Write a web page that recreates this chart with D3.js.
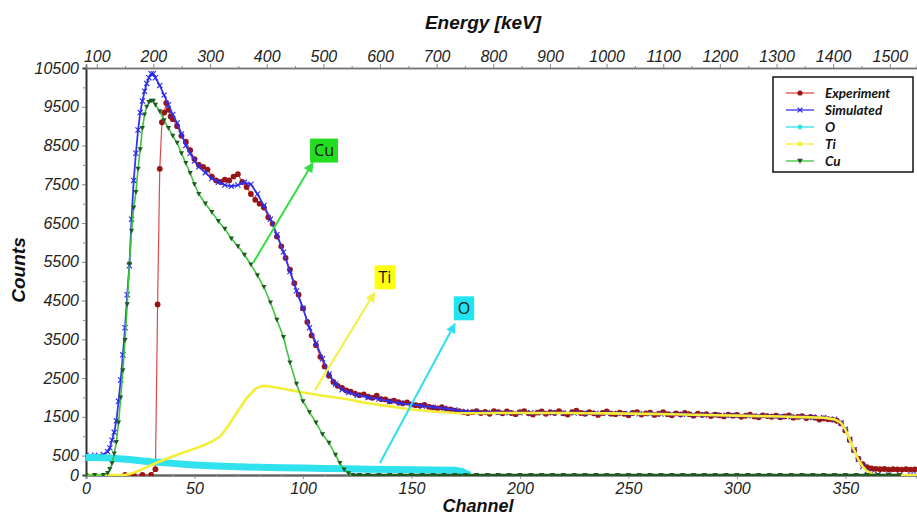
<!DOCTYPE html>
<html><head><meta charset="utf-8">
<script src="https://cdn.jsdelivr.net/npm/d3@7"></script>
<style>
body{margin:0;background:#fff;}
svg{display:block;font-family:"Liberation Sans",Arial,sans-serif;}
</style>
</head><body>
<svg id="chart" width="917" height="517"></svg>
<script>
// ---------- data ----------
const channelTicks = [0,50,100,150,200,250,300,350];
const energyTicks = [100,200,300,400,500,600,700,800,900,1000,1100,1200,1300,1400,1500];
const countTicks = [0,500,1500,2500,3500,4500,5500,6500,7500,8500,9500,10500];
const seriesNames = ["Experiment","Simulated","O","Ti","Cu"];

const expChannel = [18,22,26,30,32,33,34,35,36,37,38,39,40,
 42,44,46,48,50,52,54,56,58,60,62,64,66,68,70,72,74,76,78,80,82,84,86,88,90,92,94,96,98,100,
 102,104,106,108,110,112,114,116,118,120,122,124,126,128,130,132,134,136,138,140,142,144,146,148,150,
 152,154,156,158,160,162,164,166,168,170,172,174,176,178,180,182,184,186,188,190,192,194,196,198,200,
 202,204,206,208,210,212,214,216,218,220,222,224,226,228,230,232,234,236,238,240,242,244,246,248,250,
 252,254,256,258,260,262,264,266,268,270,272,274,276,278,280,282,284,286,288,290,292,294,296,298,300,
 302,304,306,308,310,312,314,316,318,320,322,324,326,328,330,332,334,336,338,340,342,344,346,348,350,
 352,354,356,358,360,362,364,366,368,370,372,374,376,378,380,382];
const expCounts = [0,0,0,0,150,4400,7900,9100,9350,9600,9420,9250,9180,
 9000,8750,8600,8380,8150,8000,7950,7880,7700,7600,7560,7620,7600,7700,7760,7560,7430,7250,7100,7000,6900,6650,6480,6150,5900,5600,5300,4950,4650,4300,
 3950,3600,3350,3050,2800,2560,2400,2300,2250,2180,2150,2100,2060,2080,2020,1990,2050,1960,1950,1900,1920,1880,1850,1870,1820,
 1800,1790,1810,1760,1740,1720,1750,1700,1690,1660,1650,1620,1600,1620,1650,1600,1630,1580,1650,1620,1590,1640,1600,1570,1620,
 1650,1590,1560,1610,1640,1580,1620,1600,1650,1590,1560,1620,1660,1600,1580,1620,1590,1550,1600,1640,1580,1570,1610,1580,1540,
 1600,1620,1560,1590,1610,1550,1580,1620,1570,1540,1590,1560,1600,1570,1530,1580,1550,1570,1520,1560,1540,1510,1560,1530,1550,
 1500,1530,1560,1510,1490,1540,1520,1500,1530,1490,1510,1540,1480,1500,1520,1470,1500,1480,1430,1460,1440,1430,1400,1330,1150,
 900,640,420,280,200,170,160,150,155,140,150,145,140,150,140,145];

const simChannel = [0,4,8,10,11,12,13,14,15,16,17,18,19,20,21,22,23,24,25,26,27,28,29,30,31,32,34,36,38,40,
 42,44,46,48,50,52,55,58,61,64,67,70,73,76,79,82,85,88,91,94,97,100,103,106,109,112,115,118,121,125,
 130,135,140,145,150,155,160,165,170,175,180,185,190,195,200,205,210,215,220,225,230,235,240,245,250,
 255,260,265,270,275,280,285,290,295,300,305,310,315,320,325,330,335,340,345,348,350,352,354,356,358,
 360,362,365,370,375,380,383];
const simCounts = [510,510,530,600,700,900,1100,1400,1900,2450,3100,3800,4650,5400,6600,7600,8300,8900,9350,9650,9900,10100,10250,10350,10350,10250,10050,9800,9550,9300,
 9080,8800,8500,8300,8100,7950,7800,7650,7550,7480,7450,7480,7550,7500,7250,6950,6600,6200,5750,5250,4750,4300,3800,3400,3000,2600,2350,2200,2130,2060,
 2000,1960,1900,1850,1820,1780,1750,1720,1680,1640,1620,1615,1610,1605,1605,1605,1605,1605,1600,1600,1598,1595,1592,1590,1585,
 1580,1578,1572,1568,1562,1556,1550,1545,1540,1534,1528,1522,1516,1510,1503,1496,1489,1480,1440,1350,1180,920,650,400,220,
 100,40,10,0,0,0,0];

const oChannel = [0,5,10,15,20,25,30,35,40,45,50,55,60,70,80,90,100,110,120,130,140,150,160,170,173,175,177];
const oCounts = [450,450,440,420,400,370,340,320,300,280,260,245,235,215,200,190,180,170,160,150,145,138,132,125,100,40,0];

const tiChannel = [0,18,22,26,30,34,38,42,46,50,54,58,62,66,70,74,78,81,84,88,92,96,100,105,110,115,120,125,130,135,
 140,145,150,155,160,165,170,175,180,190,200,210,220,230,240,250,260,270,280,290,300,310,320,330,340,345,348,350,352,354,
 356,358,360,362,365,370,383];
const tiCounts = [0,0,60,150,250,350,440,520,600,680,760,860,1000,1300,1650,1980,2220,2300,2290,2250,2210,2170,2130,2085,2040,2000,1960,1900,1850,1810,
 1770,1730,1690,1665,1640,1620,1600,1595,1595,1598,1600,1600,1598,1595,1590,1584,1576,1566,1555,1543,1532,1520,1508,1494,1478,1435,1345,1172,912,645,
 395,215,95,35,8,0,0];

const cuChannel = [0,4,8,10,11,12,13,14,15,16,17,18,19,20,21,22,23,24,25,26,27,28,29,30,31,32,34,36,38,40,
 42,44,46,48,50,52,55,58,61,64,67,70,73,76,79,82,85,88,91,94,97,100,103,106,109,112,115,117,119,121,
 123,126,130,135,140,145,150,155,160,165,170,175,180,185,190,195,200,205,210,215,220,225,230,235,240,245,250,
 255,260,265,270,275,280,285,290,295,300,305,310,315,320,325,330,335,340,345,350,355,360,365,370,375,380];
const cuCounts = [0,0,0,50,150,300,550,850,1350,2000,2700,3480,4400,5450,6300,6900,7300,7900,8400,8950,9300,9500,9620,9650,9650,9550,9380,9150,8950,8750,
 8570,8300,8050,7790,7500,7250,7000,6780,6550,6350,6100,5900,5680,5430,5150,4850,4450,4000,3560,2900,2350,1900,1620,1350,1050,830,520,310,140,40,
 0,0,0,0,0,0,0,0,0,0,0,0,0,0,0,0,0,0,0,0,0,0,0,0,0,0,0,
 0,0,0,0,0,0,0,0,0,0,0,0,0,0,0,0,0,0,0,0,0,0,0,0,0];

// annotations (data coordinates)
const annLabels = ["Cu","Ti","O"];
const annFrom = [[77,5470],[105.5,2190],[135.5,310]];
const annTo = [[104.5,8050],[133,4700],[170,3900]];
const annBox = [[109.7,8370],[137.8,5100],[174.2,4300]];

// ---------- drawing ----------
const svg = d3.select("#chart");
const L=86, R=917, T=68, B=475;
const x = d3.scaleLinear().domain([0,383]).range([L,R]);
const xE = d3.scaleLinear().domain([81,1548]).range([L,R]);
const y = d3.scaleLinear().domain([0,10500]).range([B,T]);

svg.append("rect").attr("width",917).attr("height",517).attr("fill","#fff");

const defs = svg.append("defs");
defs.append("clipPath").attr("id","clip").append("rect")
  .attr("x",L).attr("y",T-8).attr("width",R-L).attr("height",B-T+9);

const colors = {exp:"#e04848", expM:"#9a1414", sim:"#3434f0", o:"#30e2ee", ti:"#f4ee3a", cu:"#3cc63c", cuM:"#1f5a22"};

const itFont = "italic 16px 'Liberation Sans', Arial, sans-serif";
const fmt = d3.format("d");

// left axis
const gl = svg.append("g").attr("transform",`translate(${L},0)`);
gl.call(d3.axisLeft(y).tickValues(countTicks).tickSize(4).tickPadding(3).tickFormat(fmt));
gl.append("g").call(d3.axisLeft(y).tickValues([1000,2000,3000,4000,5000,6000,7000,8000,9000,10000]).tickSize(3).tickFormat(""));
gl.selectAll("path.domain").attr("stroke","#333").attr("stroke-width",1.6);
gl.selectAll(".tick line").attr("stroke","#888");
gl.selectAll("text").style("font",itFont).attr("fill","#222");

// bottom axis
const gb = svg.append("g").attr("transform",`translate(0,${B})`);
gb.call(d3.axisBottom(x).tickValues(channelTicks).tickSize(4).tickPadding(4).tickFormat(fmt));
gb.append("g").call(d3.axisBottom(x).tickValues(d3.range(10,383,10).filter(v=>v%50)).tickSize(2).tickFormat(""));
gb.selectAll("path.domain").attr("stroke","#666").attr("stroke-width",2);
gb.selectAll(".tick line").attr("stroke","#999");
gb.selectAll("text").style("font",itFont).attr("fill","#222");

// top axis
const gt = svg.append("g").attr("transform",`translate(0,${T})`);
gt.call(d3.axisTop(xE).tickValues(energyTicks).tickSize(4).tickPadding(2).tickFormat(fmt));
gt.append("g").call(d3.axisTop(xE).tickValues(energyTicks.map(v=>v+50).filter(v=>v<1548)).tickSize(2).tickFormat(""));
gt.selectAll("path.domain").attr("stroke","#777").attr("stroke-width",1.5);
gt.selectAll(".tick line").attr("stroke","#888");
gt.selectAll("text").style("font",itFont).attr("fill","#222");

// titles
const titleFont = "italic bold 19px 'Liberation Sans', Arial, sans-serif";
svg.append("text").attr("x",483).attr("y",29).attr("text-anchor","middle")
  .style("font",titleFont).attr("fill","#111").text("Energy [keV]");
svg.append("text").attr("x",478).attr("y",512).attr("text-anchor","middle")
  .style("font","italic bold 18px 'Liberation Sans', Arial, sans-serif").attr("fill","#111").text("Channel");
svg.append("text").attr("transform","translate(25,270) rotate(-90)").attr("text-anchor","middle")
  .style("font",titleFont).attr("fill","#111").text("Counts");

// series
const plot = svg.append("g").attr("clip-path","url(#clip)");
const line = d3.line().x(d=>x(d[0])).y(d=>y(d[1]));
const zipP = (a,b)=>a.map((c,i)=>[c,b[i]]);

const expData = zipP(expChannel, expCounts);
const simData = zipP(simChannel, simCounts);
const oData = zipP(oChannel, oCounts);
const tiData = zipP(tiChannel, tiCounts);
const cuData = zipP(cuChannel, cuCounts);

const xMark = s=>`M${-s},${-s}L${s},${s}M${-s},${s}L${s},${-s}`;
const triDown = s=>`M${-s},${-s*0.8}L${s},${-s*0.8}L0,${s}Z`;

// Experiment
plot.append("path").datum(expData).attr("d",line).attr("fill","none").attr("stroke",colors.exp).attr("stroke-width",1.2);
plot.append("g").selectAll("circle").data(expData).join("circle")
  .attr("cx",d=>x(d[0])).attr("cy",d=>y(d[1])).attr("r",2.9).attr("fill",colors.expM);

// Simulated
plot.append("path").datum(simData).attr("d",line).attr("fill","none").attr("stroke",colors.sim).attr("stroke-width",1.8);
plot.append("g").selectAll("path").data(simData).join("path")
  .attr("transform",d=>`translate(${x(d[0])},${y(d[1])})`).attr("d",xMark(2.6))
  .attr("stroke","#2828e8").attr("stroke-width",1.1).attr("fill","none");

// O
plot.append("path").datum(oData).attr("d",line).attr("fill","none").attr("stroke",colors.o).attr("stroke-width",7).attr("stroke-linejoin","round");

// Ti
plot.append("path").datum(tiData).attr("d",line).attr("fill","none").attr("stroke",colors.ti).attr("stroke-width",2.6).attr("stroke-linejoin","round");

// Cu
plot.append("path").datum(cuData).attr("d",line).attr("fill","none").attr("stroke",colors.cu).attr("stroke-width",1.6);
plot.append("g").selectAll("path").data(cuData).join("path")
  .attr("transform",d=>`translate(${x(d[0])},${y(d[1])})`).attr("d",triDown(2.6))
  .attr("fill",colors.cuM);
plot.append("path").datum(cuData.filter(d=>d[1]===0 && d[0]>=123)).attr("d",line)
  .attr("fill","none").attr("stroke",colors.cuM).attr("stroke-width",2.5);

// annotations
const annFill = ["#22dd22","#ffff10","#22e4f0"];
const annStroke = ["#33dd44","#f2f040","#2ee0ee"];
annLabels.forEach((lab,i)=>{
  const id = "arr"+i;
  defs.append("marker").attr("id",id).attr("viewBox","0 0 10 10").attr("refX",9).attr("refY",5)
    .attr("markerWidth",5).attr("markerHeight",5).attr("orient","auto")
    .append("path").attr("d","M0,0L10,5L0,10Z").attr("fill",annStroke[i]);
  svg.append("line").attr("x1",x(annFrom[i][0])).attr("y1",y(annFrom[i][1]))
    .attr("x2",x(annTo[i][0])).attr("y2",y(annTo[i][1]))
    .attr("stroke",annStroke[i]).attr("stroke-width",2).attr("marker-end",`url(#${id})`);
  const bx = x(annBox[i][0]), by = y(annBox[i][1]);
  const t = svg.append("text").attr("x",bx).attr("y",by).attr("text-anchor","middle").attr("dy","0.36em")
    .style("font","16px 'Open Sans', 'Liberation Sans', sans-serif").attr("fill","#111").text(lab);
  const bb = t.node().getBBox();
  svg.insert("rect", function(){return t.node();})
    .attr("x",bb.x-4).attr("y",by-12).attr("width",bb.width+8).attr("height",24).attr("fill",annFill[i]);
});

// legend
const lg = svg.append("g");
lg.append("rect").attr("x",773).attr("y",77).attr("width",140).attr("height",95)
  .attr("fill","#fff").attr("stroke","#111").attr("stroke-width",1.5);
const lgColor = [colors.exp,colors.sim,colors.o,colors.ti,colors.cu];
const lgMarkColor = [colors.expM,"#2828e8",colors.o,colors.ti,colors.cuM];
seriesNames.forEach((n,i)=>{
  const yy = 93 + i*17;
  lg.append("line").attr("x1",786).attr("x2",814).attr("y1",yy).attr("y2",yy).attr("stroke",lgColor[i]).attr("stroke-width",1.3);
  if(i===0) lg.append("circle").attr("cx",800).attr("cy",yy).attr("r",2.6).attr("fill",lgMarkColor[i]);
  else if(i===1) lg.append("path").attr("transform",`translate(800,${yy})`).attr("d",xMark(2.4)).attr("stroke",lgMarkColor[i]).attr("stroke-width",1.2);
  else if(i===4) lg.append("path").attr("transform",`translate(800,${yy})`).attr("d",triDown(2.8)).attr("fill",lgMarkColor[i]);
  else lg.append("circle").attr("cx",800).attr("cy",yy).attr("r",2.4).attr("fill",lgMarkColor[i]);
  lg.append("text").attr("x",825).attr("y",yy).attr("dy","0.35em")
    .style("font","italic bold 13.5px Lato, 'Open Sans', sans-serif").attr("fill","#111").text(n);
});
</script>
</body></html>
